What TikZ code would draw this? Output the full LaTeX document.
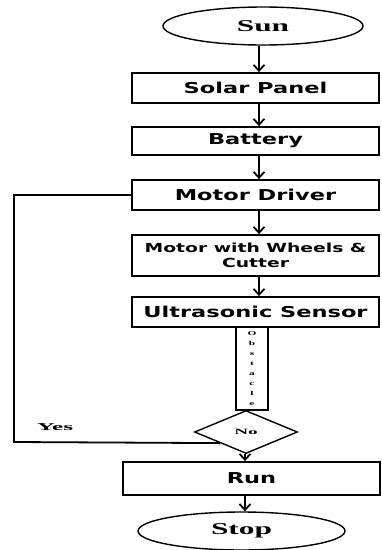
\documentclass[tikz,border=0pt]{standalone}
\usepackage{fontspec}
\usetikzlibrary{shapes.geometric,arrows.meta}
\newfontfamily\boxfont{DejaVu Sans}[FakeStretch=1.5]
\newfontfamily\serfont{Liberation Serif}[FakeStretch=1.9]
\newfontfamily\smallser{Liberation Serif}[FakeStretch=2.4]
\begin{document}
\begin{tikzpicture}[x=1pt,y=-1pt,
  box/.style={draw,line width=1.8pt,rectangle,minimum width=247pt,minimum height=30pt,inner sep=0pt,align=center,font=\boxfont\bfseries\fontsize{15}{18}\selectfont},
  term/.style={draw,line width=1.4pt,ellipse,inner sep=0pt,font=\serfont\bfseries\fontsize{16.5}{18}\selectfont},
  arr/.style={line width=1.8pt,-{Straight Barb[length=6pt,width=11pt,line width=1.8pt]}},
  link/.style={line width=1.8pt}]
\useasboundingbox (0,0) rectangle (381,550);
\node[term,minimum width=200pt,minimum height=38pt] (sun) at (263,26) {Sun};
\node[box,minimum height=30pt] (solar) at (255.5,88) {Solar Panel};
\node[box,minimum height=28pt] (bat) at (255.5,141) {Battery};
\node[box,minimum height=30pt] (md) at (255.5,195) {Motor Driver};
\node[box,minimum height=41pt,font=\boxfont\bfseries\fontsize{12.5}{15}\selectfont] (mw) at (255.5,255.5) {Motor with Wheels \&\\Cutter};
\node[box,minimum height=30pt] (us) at (255.5,312) {Ultrasonic Sensor};
\node[draw,line width=1.4pt,rectangle,minimum width=32pt,minimum height=83pt,inner sep=0pt,font=\serfont\bfseries\fontsize{6}{10}\selectfont,align=center] (obs) at (252,368.5) {O\\b\\s\\t\\a\\c\\l\\e};
\node[draw,line width=1.4pt,diamond,minimum width=103pt,minimum height=43pt,inner sep=0pt,font=\smallser\bfseries\fontsize{8}{9}\selectfont] (dia) at (246,432) {No};
\node[box,minimum width=257pt,minimum height=33pt] (run) at (251.5,478.5) {Run};
\node[term,minimum width=207pt,minimum height=38pt] (stop) at (241.5,531) {Stop};
\node[font=\smallser\bfseries\fontsize{10.5}{12}\selectfont] (yes) at (55,427) {Yes};
\coordinate (ax) at (259,0);
\coordinate (bx) at (245,0);
\coordinate (yb) at (14,442);
\draw[arr] (sun.south -| ax) -- (solar.north -| ax);
\draw[arr] (solar.south -| ax) -- (bat.north -| ax);
\draw[arr] (bat.south -| ax) -- (md.north -| ax);
\draw[arr] (md.south -| ax) -- (mw.north -| ax);
\draw[arr] (mw.south -| ax) -- (us.north -| ax);
\draw[arr] (dia.south -| bx) -- (run.north -| bx);
\draw[arr] (run.south -| bx) -- (stop.north -| bx);
\draw[link] (dia.south west) -- (yb) |- (md.west);
\end{tikzpicture}
\end{document}
